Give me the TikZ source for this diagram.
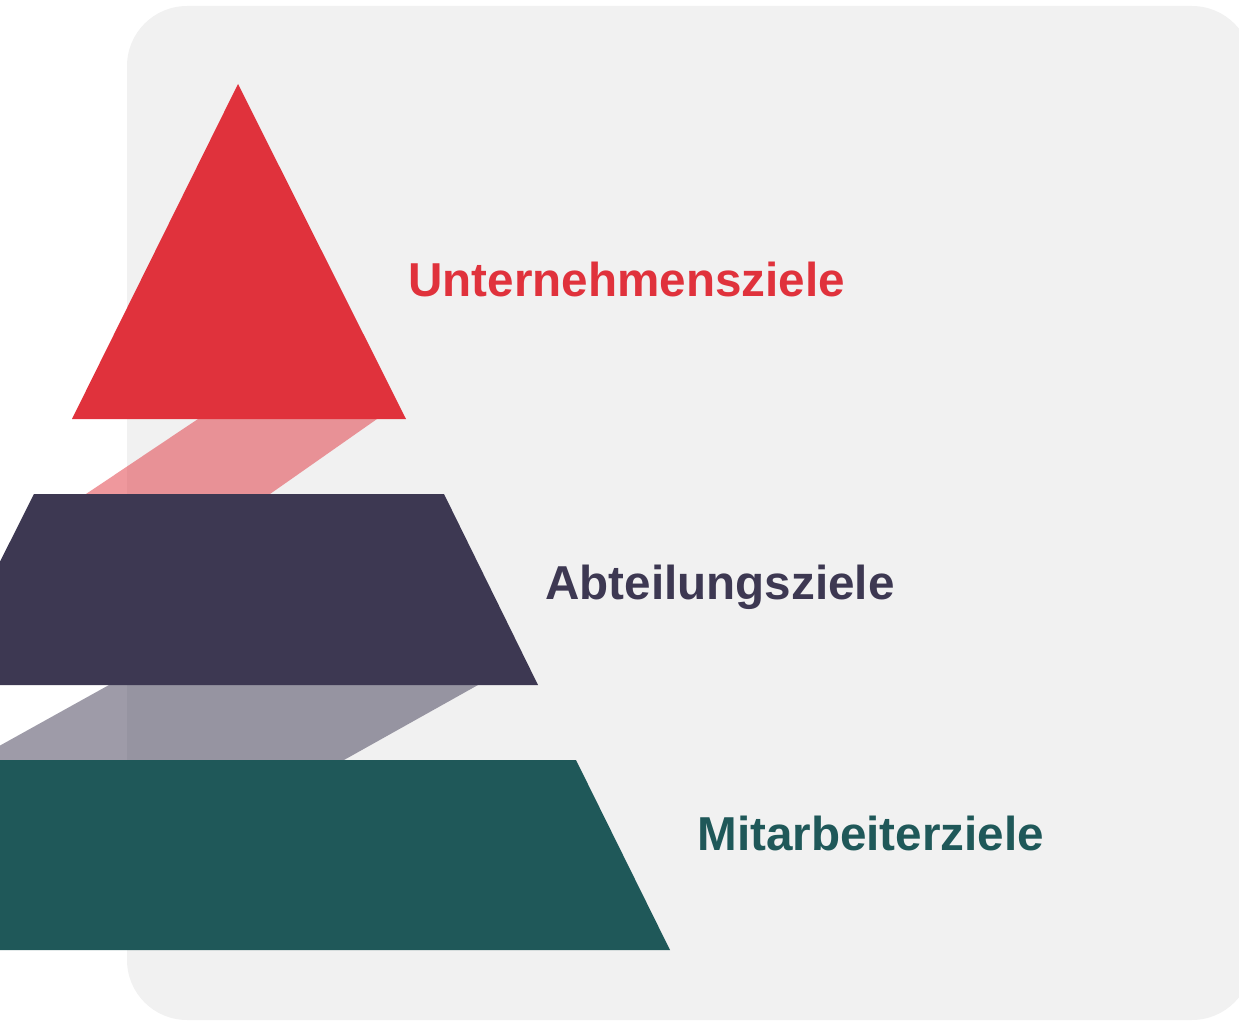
\documentclass[tikz,border=0pt]{standalone}
\usepackage{fontspec}
\setmainfont{Liberation Sans}
\definecolor{bgc}{HTML}{F1F1F1}
\definecolor{redc}{HTML}{E0323C}
\definecolor{darkc}{HTML}{3D3852}
\definecolor{tealc}{HTML}{1F5859}
\tikzset{
  lbl/.style={anchor=base west, inner sep=0pt, font=\fontsize{23.8}{28}\selectfont\bfseries},
  band/.style={fill opacity=0.5},
}
\begin{document}
\begin{tikzpicture}[x=0.5pt,y=-0.5pt]
\useasboundingbox (0,0) rectangle (1239,1022);
\clip (0,0) rectangle (1239,1022);
% background panel
\fill[bgc, rounded corners=30pt] (127,6) rectangle (1252,1020);
% connecting bands
\fill[redc, band] (198,419) -- (377,419) -- (270,494) -- (86,494) -- cycle;
\fill[darkc, band] (109,685) -- (478,685) -- (344,760) -- (-26,760) -- cycle;
% levels
\fill[redc] (238,84) -- (406,419) -- (72,419) -- cycle;
\fill[darkc] (34,494) -- (444,494) -- (538,685) -- (-62,685) -- cycle;
\fill[tealc] (-30,760) -- (576,760) -- (670,950) -- (-30,950) -- cycle;
% labels
\node[lbl, text=redc] (l1) at (408,297) {Unternehmensziele};
\node[lbl, text=darkc] (l2) at (545,599) {Abteilungsziele};
\node[lbl, text=tealc] (l3) at (697,850) {Mitarbeiterziele};
\end{tikzpicture}
\end{document}
